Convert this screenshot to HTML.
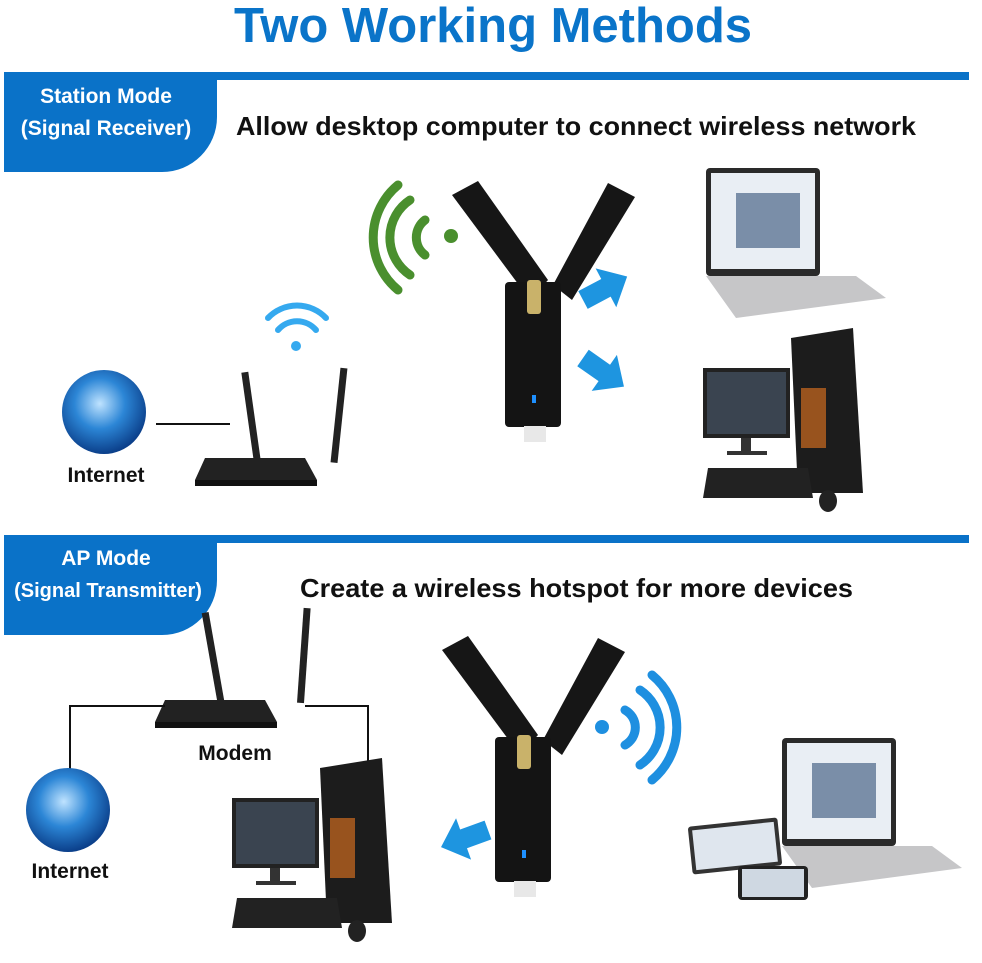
<!DOCTYPE html>
<html><head><meta charset="utf-8"><style>
body{margin:0;background:#fff;width:982px;height:958px;overflow:hidden;font-family:"Liberation Sans",sans-serif}
</style></head><body>
<svg width="982" height="958" viewBox="0 0 982 958" xmlns="http://www.w3.org/2000/svg" font-family="Liberation Sans, sans-serif" font-weight="bold">
<defs>
<radialGradient id="gl" cx="45%" cy="40%" r="60%"><stop offset="0" stop-color="#bfe3ff"/><stop offset="0.5" stop-color="#2c86d6"/><stop offset="1" stop-color="#0b3f8a"/></radialGradient>
<g id="adp">
<path d="M452,195 L478,181 L548,280 L530,300 Z" fill="#161616"/>
<path d="M608,183 L635,197 L572,300 L553,285 Z" fill="#161616"/>
<rect x="505" y="282" width="56" height="145" rx="4" fill="#141414"/>
<rect x="527" y="280" width="14" height="34" rx="3" fill="#c9b26a"/>
<rect x="532" y="395" width="4" height="8" fill="#1e90ff"/>
<rect x="524" y="426" width="22" height="16" fill="#e8e8e8"/>
</g>
<g id="arr"><path d="M0,-10 L26,-10 L26,-22 L50,0 L26,22 L26,10 L0,10 Z" fill="#1e95e0"/></g>
<g id="router">
<path d="M0,0 L100,0 L112,22 L-10,22 Z" fill="#222"/>
<rect x="-10" y="22" width="122" height="6" fill="#111"/>
</g>
<g id="laptop">
<rect x="0" y="0" width="114" height="108" rx="4" fill="#2a2a2a"/>
<rect x="5" y="5" width="104" height="96" fill="#e9eef4"/>
<rect x="30" y="25" width="64" height="55" fill="#7a8ea8"/>
<path d="M0,108 L150,108 L180,130 L30,150 Z" fill="#c6c6c8"/>
</g>
<g id="pc">
<rect x="0" y="0" width="87" height="70" fill="#222"/>
<rect x="4" y="4" width="79" height="62" fill="#3a4450"/>
<rect x="38" y="70" width="10" height="14" fill="#333"/>
<rect x="24" y="83" width="40" height="4" fill="#333"/>
<path d="M88,-30 L150,-40 L160,125 L95,125 Z" fill="#1c1c1c"/>
<rect x="98" y="20" width="25" height="60" fill="#b8621f" opacity="0.8"/>
<path d="M5,100 L105,100 L110,130 L0,130 Z" fill="#222"/>
<ellipse cx="125" cy="133" rx="9" ry="11" fill="#222"/>
</g>
</defs>
<text x="493" y="42" text-anchor="middle" font-size="49" fill="#0a74c9">Two Working Methods</text>
<rect x="4" y="72" width="965" height="8" fill="#0a72c8"/>
<path d="M4,72 H217 V117 A55,55 0 0 1 162,172 H4 Z" fill="#0a72c8"/>
<text x="106" y="103" text-anchor="middle" font-size="21" fill="#fff">Station Mode</text>
<text x="106" y="135" text-anchor="middle" font-size="21" fill="#fff">(Signal Receiver)</text>
<text x="236" y="135" font-size="26" fill="#111" textLength="680" lengthAdjust="spacingAndGlyphs">Allow desktop computer to connect wireless network</text>

<rect x="4" y="535" width="965" height="8" fill="#0a72c8"/>
<path d="M4,535 H217 V580 A55,55 0 0 1 162,635 H4 Z" fill="#0a72c8"/>
<text x="106" y="565" text-anchor="middle" font-size="21" fill="#fff">AP Mode</text>
<text x="108" y="597" text-anchor="middle" font-size="20" fill="#fff">(Signal Transmitter)</text>
<text x="300" y="597" font-size="26" fill="#111" textLength="553" lengthAdjust="spacingAndGlyphs">Create a wireless hotspot for more devices</text>

<g fill="none" stroke="#4a8f2e" stroke-width="9" stroke-linecap="round">
<path d="M425,220 A22,22 0 0 0 425,255"/>
<path d="M410,200 A45,45 0 0 0 410,275"/>
<path d="M398,185 A68,68 0 0 0 398,290"/>
</g>
<circle cx="451" cy="236" r="7" fill="#4a8f2e"/>
<use href="#adp"/>
<use href="#arr" transform="translate(583,300) rotate(-28)"/>
<use href="#arr" transform="translate(583,358) rotate(35)"/>
<g fill="none" stroke="#35a9ef" stroke-width="6" stroke-linecap="round">
<path d="M268,318 A40,40 0 0 1 326,318"/><path d="M278,330 A25,25 0 0 1 316,330"/>
</g>
<circle cx="296" cy="346" r="5" fill="#35a9ef"/>
<circle cx="104" cy="412" r="42" fill="url(#gl)"/>
<line x1="156" y1="424" x2="230" y2="424" stroke="#111" stroke-width="2"/>
<text x="106" y="482" text-anchor="middle" font-size="21" fill="#111">Internet</text>
<rect x="248" y="372" width="7" height="90" fill="#222" transform="rotate(-8 250 420)"/>
<rect x="335" y="368" width="7" height="95" fill="#222" transform="rotate(6 340 420)"/>
<use href="#router" transform="translate(205,458)"/>
<use href="#laptop" transform="translate(706,168)"/>
<use href="#pc" transform="translate(703,368)"/>

<use href="#adp" transform="translate(-10,455)"/>
<g fill="none" stroke="#1e8fe0" stroke-width="9" stroke-linecap="round">
<path d="M625,710 A20,20 0 0 1 625,745"/>
<path d="M640,690 A45,45 0 0 1 640,765"/>
<path d="M652,675 A68,68 0 0 1 652,780"/>
</g>
<circle cx="602" cy="727" r="7" fill="#1e8fe0"/>
<use href="#arr" transform="translate(488,830) rotate(160)"/>
<rect x="210" y="612" width="7" height="95" fill="#222" transform="rotate(-10 213 660)"/>
<rect x="300" y="608" width="7" height="95" fill="#222" transform="rotate(4 303 660)"/>
<use href="#router" transform="translate(165,700)"/>
<polyline points="165,706 70,706 70,790" fill="none" stroke="#111" stroke-width="2"/>
<polyline points="305,706 368,706 368,770" fill="none" stroke="#111" stroke-width="2"/>
<text x="235" y="760" text-anchor="middle" font-size="21" fill="#111">Modem</text>
<circle cx="68" cy="810" r="42" fill="url(#gl)"/>
<text x="70" y="878" text-anchor="middle" font-size="21" fill="#111">Internet</text>
<use href="#pc" transform="translate(232,798)"/>
<use href="#laptop" transform="translate(782,738)"/>
<rect x="690" y="822" width="90" height="48" rx="3" fill="#333" transform="rotate(-6 735 846)"/>
<rect x="694" y="826" width="82" height="40" fill="#dfe6ee" transform="rotate(-6 735 846)"/>
<rect x="738" y="866" width="70" height="34" rx="4" fill="#222"/>
<rect x="742" y="869" width="62" height="28" fill="#cfd8e2"/>
</svg>
</body></html>
